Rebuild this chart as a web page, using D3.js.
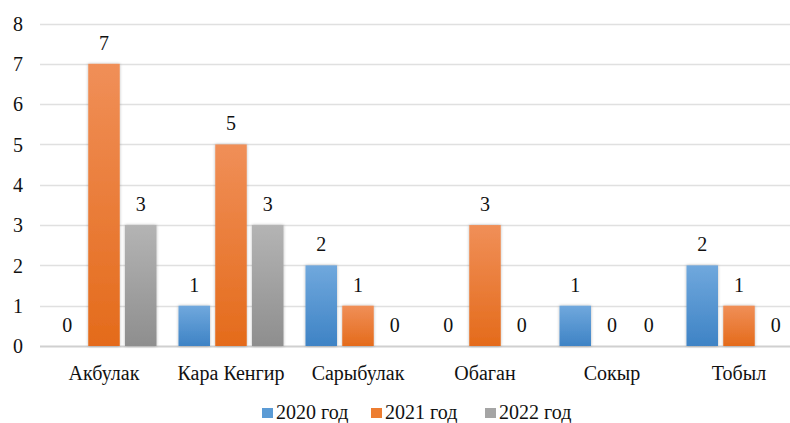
<!DOCTYPE html>
<html>
<head>
<meta charset="utf-8">
<script src="https://cdn.jsdelivr.net/npm/d3@7"></script>
<style>
  body { margin: 0; background: #fff; }
</style>
</head>
<body>
<svg id="chart" width="790" height="423" font-family="Liberation Serif"></svg>
<script>
// data
var categories = ['Акбулак', 'Кара Кенгир', 'Сарыбулак', 'Обаган', 'Сокыр', 'Тобыл']
var seriesNames = ['2020 год', '2021 год', '2022 год']
var values2020 = [0, 1, 2, 0, 1, 2]
var values2021 = [7, 5, 1, 3, 0, 1]
var values2022 = [3, 3, 0, 0, 0, 0]
var yTicks = [0, 1, 2, 3, 4, 5, 6, 7, 8]

var fontFamily = 'Liberation Serif'
var fontSize = 20

// colors: [top, bottom, legend]
var colors = [
  ['#70a8dd', '#3e83c5', '#5b9bd5'],
  ['#f08f58', '#e46b1b', '#ed7d31'],
  ['#b4b4b4', '#8e8e8e', '#a5a5a5']
]

var svg = d3.select('#chart')
var series = [values2020, values2021, values2022]

var x0 = d3.scaleBand().domain(categories).range([40.5, 802.5])
var x1 = d3.scaleBand().domain(d3.range(3)).range([-52.5, 52.5]).paddingInner(5 / 35)
var y = d3.scaleLinear().domain([0, 8]).range([346, 23.5])

var defs = svg.append('defs')
colors.forEach(function(c, i) {
  var g = defs.append('linearGradient').attr('id', 'grad' + i)
    .attr('x1', 0).attr('y1', 0).attr('x2', 0).attr('y2', 1)
  g.append('stop').attr('offset', '0%').attr('stop-color', c[0])
  g.append('stop').attr('offset', '100%').attr('stop-color', c[1])
})
var f = defs.append('filter').attr('id', 'shadow')
  .attr('x', '-30%').attr('y', '-10%').attr('width', '160%').attr('height', '120%')
f.append('feDropShadow').attr('dx', 0).attr('dy', 0).attr('stdDeviation', 1.6)
  .attr('flood-color', '#000').attr('flood-opacity', 0.28)

// gridlines
svg.append('g').selectAll('line').data(yTicks).join('line')
  .attr('x1', 40).attr('x2', 790)
  .attr('y1', function(d) { return Math.round(y(d)) + 0.5 })
  .attr('y2', function(d) { return Math.round(y(d)) + 0.5 })
  .attr('stroke', function(d) { return d === 0 ? '#d0d0d0' : '#e0e0e0' })
  .attr('stroke-width', function(d) { return d === 0 ? 2 : 1.5 })

// y axis labels
var yAxis = d3.axisLeft(y).tickValues(yTicks).tickSize(0).tickPadding(0)
svg.append('g').attr('transform', 'translate(23,0)').call(yAxis)
  .attr('font-family', fontFamily).attr('font-size', fontSize)
  .call(function(g) { g.select('.domain').remove() })
  .selectAll('text')
  .attr('fill', '#111').attr('dy', '0.34em')

// x axis labels
var xAxis = d3.axisBottom(x0).tickSize(0).tickPadding(0)
svg.append('g').attr('transform', 'translate(0,366)').call(xAxis)
  .attr('font-family', fontFamily).attr('font-size', fontSize)
  .call(function(g) { g.select('.domain').remove() })
  .selectAll('text')
  .attr('fill', '#111').attr('dy', '0.71em')

// bars
var groups = svg.append('g').selectAll('g').data(categories).join('g')
  .attr('transform', function(d) { return 'translate(' + (x0(d) + x0.bandwidth() / 2) + ',0)' })

groups.selectAll('rect')
  .data(function(d, ci) { return series.map(function(s, si) { return {si: si, v: s[ci]} }) })
  .join('rect')
  .filter(function(d) { return d.v > 0 })
  .attr('x', function(d) { return x1(d.si) })
  .attr('width', x1.bandwidth())
  .attr('y', function(d) { return y(d.v) })
  .attr('height', function(d) { return y(0) - y(d.v) })
  .attr('fill', function(d) { return 'url(#grad' + d.si + ')' })
  .attr('filter', 'url(#shadow)')

groups.selectAll('text.val')
  .data(function(d, ci) { return series.map(function(s, si) { return {si: si, v: s[ci]} }) })
  .join('text').attr('class', 'val')
  .attr('x', function(d) { return x1(d.si) + x1.bandwidth() / 2 })
  .attr('y', function(d) { return y(d.v) - 14 })
  .attr('text-anchor', 'middle')
  .attr('fill', '#111')
  .attr('font-family', fontFamily).attr('font-size', fontSize)
  .text(function(d) { return d.v })

// legend
var legendX = [262, 371, 485]
var legend = svg.append('g').selectAll('g').data(seriesNames).join('g')
  .attr('transform', function(d, i) { return 'translate(' + legendX[i] + ',0)' })
legend.append('rect').attr('x', 0).attr('y', 408).attr('width', 11).attr('height', 10)
  .attr('fill', function(d, i) { return colors[i][2] })
legend.append('text').attr('x', 14).attr('y', 419)
  .attr('fill', '#111')
  .attr('font-family', fontFamily).attr('font-size', fontSize)
  .text(function(d) { return d })
</script>
</body>
</html>
